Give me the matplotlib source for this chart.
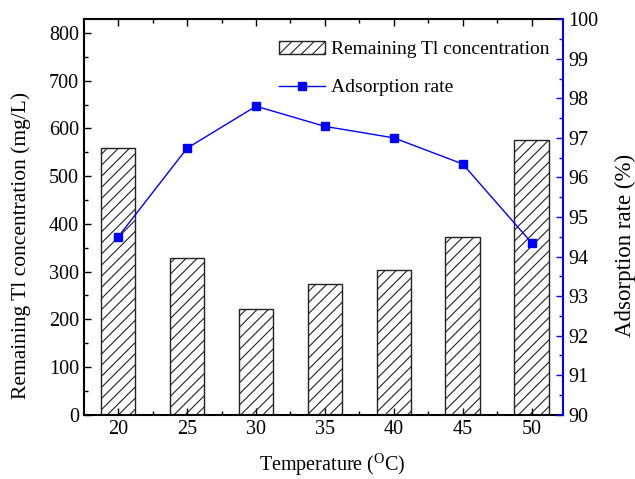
import matplotlib
matplotlib.use('Agg')
import matplotlib.pyplot as plt
import numpy as np

plt.rcParams['font.family'] = ['Liberation Serif', 'DejaVu Serif']
plt.rcParams['mathtext.fontset'] = 'custom'
plt.rcParams['mathtext.rm'] = 'Liberation Serif'
plt.rcParams['hatch.linewidth'] = 0.8

temperature = [20, 25, 30, 35, 40, 45, 50]
remaining_tl = [560, 329, 221, 274, 303, 373, 576]
adsorption_rate = [94.50, 96.74, 97.80, 97.29, 97.00, 96.34, 94.35]

fig = plt.figure(figsize=(6.35, 4.79), dpi=100)
ax = fig.add_axes([0.132, 0.134, 0.755, 0.826])

bars = ax.bar(temperature, remaining_tl, width=2.5, facecolor='white',
              edgecolor='#222222', hatch='///', linewidth=1.0,
              label='Remaining Tl concentration')
ax.set_xlim(17.5, 52.3)
ax.set_ylim(0, 829)
ax.set_xticks(temperature)
ax.set_xticks([22.5, 27.5, 32.5, 37.5, 42.5, 47.5], minor=True)
ax.set_yticks(np.arange(0, 801, 100))
ax.set_yticks(np.arange(50, 801, 100), minor=True)
ax.tick_params(which='both', direction='in', top=True, labelsize=14.5, width=1.0)
ax.tick_params(which='major', length=5)
ax.tick_params(which='minor', length=3)
ax.set_xlabel(r'Temperature ($^\mathrm{O}$C)', fontsize=14.5)
ax.set_ylabel('Remaining Tl concentration (mg/L)', fontsize=15.5)
ax.xaxis.set_label_coords(0.518, -0.092)
ax.yaxis.set_label_coords(-0.11, 0.427)
for s in ['left', 'bottom', 'top']:
    ax.spines[s].set_linewidth(1.5)
ax.spines['right'].set_visible(False)

ax2 = ax.twinx()
line, = ax2.plot(temperature, adsorption_rate, color='#0000ff', marker='s',
                 markersize=6, linewidth=1.0, label='Adsorption rate')
ax2.set_ylim(90, 100)
ax2.set_yticks(np.arange(90, 101, 1))
ax2.set_yticks(np.arange(90.5, 100, 1), minor=True)
ax2.tick_params(which='both', direction='in', color='#0000ff', labelsize=14.5, width=1.0)
ax2.tick_params(which='major', length=5)
ax2.tick_params(which='minor', length=3)
ax2.set_ylabel('Adsorption rate (%)', fontsize=16.5)
ax2.yaxis.set_label_coords(1.108, 0.427)
ax2.spines['right'].set_color('#0000ff')
ax2.spines['right'].set_linewidth(1.5)
for s in ['left', 'bottom', 'top']:
    ax2.spines[s].set_visible(False)

ax2.legend([bars, line], ['Remaining Tl concentration', 'Adsorption rate'],
           loc='upper right', frameon=False, fontsize=14,
           bbox_to_anchor=(1.0, 0.98), handlelength=2.4, handletextpad=0.3,
           labelspacing=1.05, borderaxespad=0.3)

fig.savefig('out.png', dpi=100)
